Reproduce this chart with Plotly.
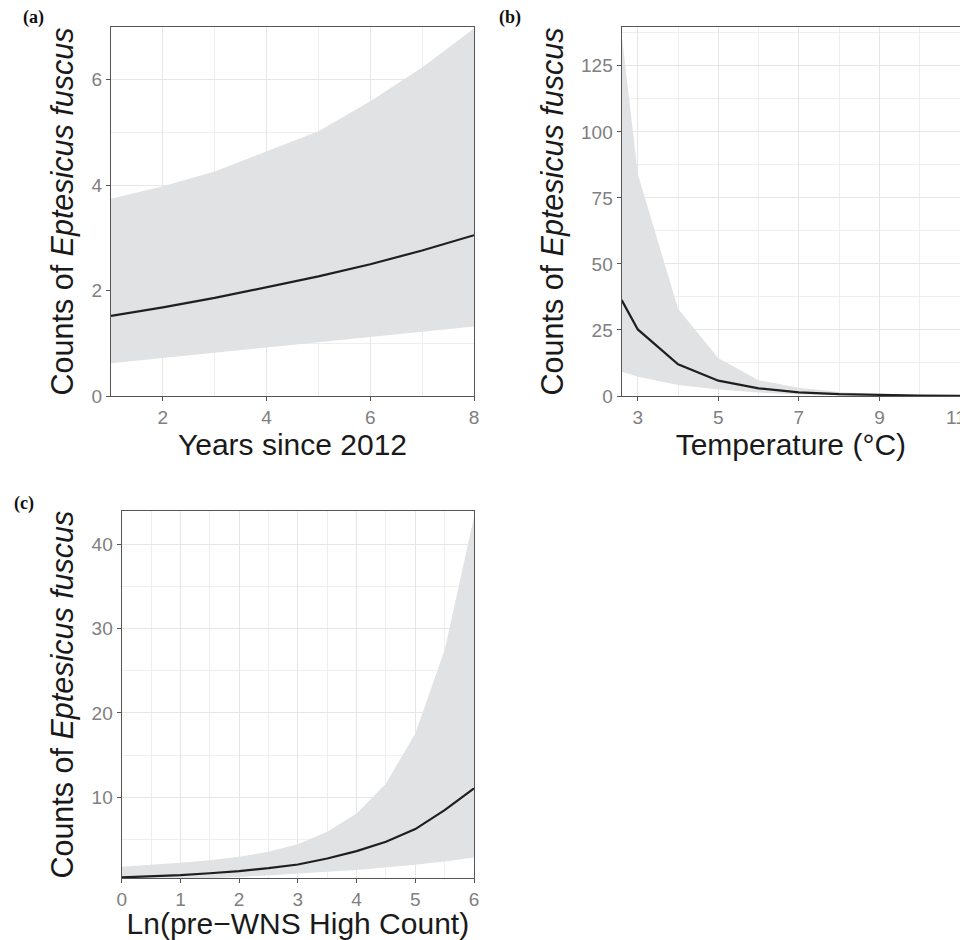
import plotly.graph_objects as go

# Panel (a): Years since 2012
years = [1, 2, 3, 4, 5, 6, 7, 8]
a_mean = [1.52, 1.68, 1.86, 2.06, 2.27, 2.50, 2.76, 3.05]
a_upper = [3.74, 3.98, 4.26, 4.64, 5.02, 5.59, 6.23, 6.97]
a_lower = [0.62, 0.72, 0.81, 0.91, 1.01, 1.12, 1.22, 1.32]

# Panel (b): Temperature
temp = [2.6, 3, 4, 5, 6, 7, 8, 9, 10, 11]
b_mean = [36.3, 25.2, 12.0, 5.8, 2.9, 1.4, 0.7, 0.3, 0.15, 0.07]
b_upper = [137.0, 84.0, 33.0, 14.3, 6.0, 3.1, 1.5, 0.7, 0.3, 0.15]
b_lower = [9.2, 7.3, 4.2, 2.5, 1.3, 0.6, 0.3, 0.12, 0.06, 0.03]
b_ticks = [3, 5, 7, 9, 11]

# Panel (c): Ln(pre-WNS High Count)
lnhc = [0, 0.5, 1, 1.5, 2, 2.5, 3, 3.5, 4, 4.5, 5, 5.5, 6]
c_mean = [0.45, 0.57, 0.73, 0.95, 1.20, 1.55, 1.99, 2.70, 3.58, 4.70, 6.20, 8.45, 11.03]
c_upper = [1.72, 1.95, 2.19, 2.50, 2.90, 3.50, 4.41, 5.88, 8.06, 11.6, 17.57, 27.48, 43.3]
c_lower = [0.12, 0.17, 0.25, 0.36, 0.50, 0.68, 0.90, 1.12, 1.35, 1.62, 1.95, 2.35, 2.83]

RIBBON = "#E1E2E4"
LINE = "#1F1F1F"
GRID = "#E6E6E6"
MINORGRID = "#EEEEEE"
BORDER = "#555555"
TICKC = "#808080"
TITLEC = "#1A1A1A"
FONT = "Liberation Sans, Arial, sans-serif"

# page body has an 8px margin: the figure is placed at (8, 8) in the window
W, H, OFF = 960, 932, 8

def dx(a, b):
    return [(a - OFF) / W, (b - OFF) / W]

def dy(top, bottom):
    return [1 - (bottom - OFF) / H, 1 - (top - OFF) / H]

fig = go.Figure()

def add_panel(x, lo, hi, mean, xa, ya):
    fig.add_trace(go.Scatter(x=x, y=lo, mode="lines", line=dict(width=0, color=RIBBON),
                             xaxis=xa, yaxis=ya, showlegend=False, hoverinfo="skip"))
    fig.add_trace(go.Scatter(x=x, y=hi, mode="lines", line=dict(width=0, color=RIBBON),
                             fill="tonexty", fillcolor=RIBBON,
                             xaxis=xa, yaxis=ya, showlegend=False, hoverinfo="skip"))
    fig.add_trace(go.Scatter(x=x, y=mean, mode="lines", line=dict(width=2.2, color=LINE),
                             xaxis=xa, yaxis=ya, showlegend=False))

add_panel(years, a_lower, a_upper, a_mean, "x", "y")
add_panel(temp, b_lower, b_upper, b_mean, "x2", "y2")
add_panel(lnhc, c_lower, c_upper, c_mean, "x3", "y3")

ytitle = "Counts of <i>Eptesicus fuscus</i>"

def axis_common():
    return dict(
        automargin=False,
        showline=True, linecolor=BORDER, linewidth=1.3, mirror=True,
        showgrid=True, gridcolor=GRID, gridwidth=1.4,
        ticks="outside", ticklen=4, tickcolor=BORDER, tickwidth=1.2,
        tickfont=dict(family=FONT, size=19, color=TICKC),
        zeroline=False,
    )

def minor(d, t0=None):
    m = dict(dtick=d, showgrid=True, gridcolor=MINORGRID, gridwidth=1.0, ticks="")
    if t0 is not None:
        m["tick0"] = t0
    return m

def xttl(text):
    return dict(text=text, font=dict(family=FONT, size=30, color=TITLEC), standoff=5)

def yttl(text):
    return dict(text=text, font=dict(family=FONT, size=30.5, color=TITLEC), standoff=8)

ax_a = axis_common()
ax_a.update(domain=dx(111, 474), range=[1, 8], tick0=2, dtick=2, minor=minor(1, 1),
            title=xttl("Years since 2012"), anchor="y")
ay_a = axis_common()
ay_a.update(domain=dy(27, 396), range=[0, 7], tick0=0, dtick=2, minor=minor(1, 0),
            title=yttl(ytitle), anchor="x")

# the last label (11) would be dropped by plotly at the page edge; it is drawn as an annotation
ax_b = axis_common()
ax_b.update(domain=dx(621.7, 960), range=[2.6, 11], tickmode="array",
            tickvals=b_ticks, ticktext=[str(v) for v in b_ticks[:-1]] + [""], minor=minor(1, 2),
            title=xttl("Temperature (°C)"), anchor="y2")
ay_b = axis_common()
ay_b.update(domain=dy(27, 396), range=[0, 139.7], tick0=0, dtick=25, minor=minor(12.5, 0),
            title=yttl(ytitle), anchor="x2")

ax_c = axis_common()
ax_c.update(domain=dx(121.7, 474), range=[0, 6], tick0=0, dtick=1, minor=minor(0.5, 0),
            title=xttl("Ln(pre\u2212WNS High Count)"), anchor="y3")
ay_c = axis_common()
ay_c.update(domain=dy(511, 878.3), range=[0.35, 44.0], tick0=0, dtick=10, minor=minor(5, 0),
            title=yttl(ytitle), anchor="x3")

fig.update_layout(
    width=W, height=H,
    margin=dict(l=0, r=0, t=0, b=0, autoexpand=False),
    paper_bgcolor="white", plot_bgcolor="white",
    xaxis=ax_a, yaxis=ay_a,
    xaxis2=ax_b, yaxis2=ay_b,
    xaxis3=ax_c, yaxis3=ay_c,
    showlegend=False,
)

fig.add_annotation(text=str(b_ticks[-1]), xref="paper", yref="paper", x=1.0,
                   y=1 - (405 - OFF) / H, yanchor="top", xanchor="right", showarrow=False,
                   font=dict(family=FONT, size=19, color=TICKC))

labels = [("(a)", 33, 17), ("(b)", 510, 17), ("(c)", 24, 503)]
for txt, px, py in labels:
    fig.add_annotation(text="<b>" + txt + "</b>", xref="paper", yref="paper",
                       x=(px - OFF) / W, y=1 - (py - OFF) / H, showarrow=False,
                       xanchor="center", yanchor="middle",
                       font=dict(family="Liberation Serif, Times New Roman, serif", size=18, color="#111111"))

fig.write_html("out.html")
